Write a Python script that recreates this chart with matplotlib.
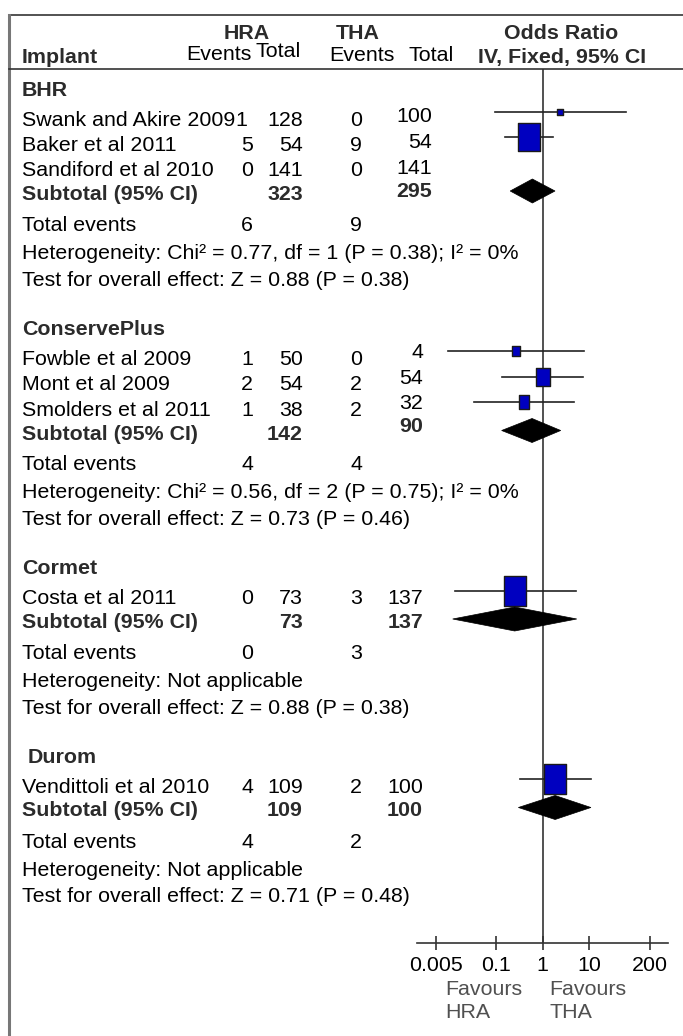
import matplotlib
matplotlib.use('Agg')
import matplotlib.pyplot as plt
from matplotlib.path import Path
from matplotlib.patches import Polygon
import numpy as np

plt.rcParams['font.family'] = ['Liberation Sans', 'DejaVu Sans']

# --- data ---
groups = ['BHR', 'ConservePlus', 'Cormet', 'Durom']
study_names = ['Swank and Akire 2009', 'Baker et al 2011', 'Sandiford et al 2010',
               'Fowble et al 2009', 'Mont et al 2009', 'Smolders et al 2011',
               'Costa et al 2011', 'Vendittoli et al 2010']
study_group = [0, 0, 0, 1, 1, 1, 2, 3]
hra_events = [1, 5, 0, 1, 2, 1, 0, 4]
hra_total = [128, 54, 141, 50, 54, 38, 73, 109]
tha_events = [0, 9, 0, 0, 2, 2, 3, 2]
tha_total = [100, 54, 141, 4, 54, 32, 137, 100]
odds = [2.36, 0.51, np.nan, 0.27, 1.0, 0.40, 0.26, 1.87]
ci_low = [0.094, 0.155, np.nan, 0.0093, 0.131, 0.033, 0.013, 0.325]
ci_high = [61.0, 1.64, np.nan, 7.85, 7.47, 4.78, 5.12, 10.8]
weight = [11.6, 88.4, np.nan, 17.7, 49.4, 32.9, 100.0, 100.0]

sub_hra_total = [323, 142, 73, 109]
sub_tha_total = [295, 90, 137, 100]
sub_odds = [0.60, 0.59, 0.25, 1.85]
sub_low = [0.20, 0.131, 0.0116, 0.30]
sub_high = [1.84, 2.44, 5.4, 10.9]
tot_hra_events = [6, 4, 0, 4]
tot_tha_events = [9, 4, 3, 2]
heterogeneity = ['Chi² = 0.77, df = 1 (P = 0.38); I² = 0%',
                 'Chi² = 0.56, df = 2 (P = 0.75); I² = 0%',
                 'Not applicable', 'Not applicable']
overall = ['Z = 0.88 (P = 0.38)', 'Z = 0.73 (P = 0.46)',
           'Z = 0.88 (P = 0.38)', 'Z = 0.71 (P = 0.48)']
tick_vals = [0.005, 0.1, 1, 10, 200]
tick_labels = ['0.005', '0.1', '1', '10', '200']

# --- layout (pixels) ---
W, H = 683, 1036
fs = 15.4
blue = '#0000c0'
boldc = '#2b2b2b'
col_name, col_he, col_ht, col_te = 22, 247, 303, 356
col_tt = [432, 423, 423, 423]
tt_dy = [-3, -7, 0, 0]
axis_y, top_y = 943, 69.3
zero_px, dec_px = 542.7, 46.5
ax_l, ax_r = 416.7, 668

fig = plt.figure(figsize=(W / 100, H / 100), dpi=100)
ax = fig.add_axes([0, 0, 1, 1])
ax.set_xlim(0, W)
ax.set_ylim(H, 0)
ax.axis('off')

fx = fig.add_axes([ax_l / W, (H - axis_y) / H, (ax_r - ax_l) / W, (axis_y - top_y) / H])
fx.set_xscale('log')
fx.set_xlim(10 ** ((ax_l - zero_px) / dec_px), 10 ** ((ax_r - zero_px) / dec_px))
fx.set_ylim(axis_y, top_y)
fx.patch.set_alpha(0)
for s in ['top', 'left', 'right']:
    fx.spines[s].set_visible(False)
fx.spines['bottom'].set_color('#333333')
fx.spines['bottom'].set_linewidth(1.2)
fx.set_yticks([])
fx.set_xticks(tick_vals)
fx.set_xticklabels(tick_labels, fontsize=fs, color='black')
fx.minorticks_off()
fx.tick_params(axis='x', direction='inout', length=9.4, width=1.2, color='#333333', pad=4.5)
fx.axvline(1, color='#333333', lw=1.2, zorder=1)


def txt(x, y, s, ha='left', bold=False, color=None):
    ax.text(x, y + 7.5, s, ha=ha, va='baseline', fontsize=fs,
            fontweight='bold' if bold else 'normal',
            color=color or (boldc if bold else 'black'))


# frame
ax.plot([9, W], [15, 15], color='#444444', lw=1.3)
ax.plot([9, 9], [15, H], color='#777777', lw=2.2)
ax.plot([9, W], [top_y, top_y], color='#333333', lw=1.2)

# header
txt(247, 31.5, 'HRA', ha='center', bold=True)
txt(358, 31.5, 'THA', ha='center', bold=True)
txt(561, 31.5, 'Odds Ratio', ha='center', bold=True)
txt(219, 52.5, 'Events', ha='center')
txt(278, 49.5, 'Total', ha='center')
txt(362, 53.5, 'Events', ha='center')
txt(431, 53.5, 'Total', ha='center')
txt(col_name, 55.5, 'Implant', bold=True)
txt(562, 55.5, 'IV, Fixed, 95% CI', ha='center', bold=True)

# box marker: width:height = 1:1.3
rect = Path([(-0.5 / 1.3, -0.5), (0.5 / 1.3, -0.5), (0.5 / 1.3, 0.5),
             (-0.5 / 1.3, 0.5), (-0.5 / 1.3, -0.5)],
            [Path.MOVETO, Path.LINETO, Path.LINETO, Path.LINETO, Path.CLOSEPOLY])

y = 88
for g, gname in enumerate(groups):
    txt(col_name + (6 if g == 3 else 0), y, gname, bold=True)
    y += 30
    idx = [i for i in range(len(study_names)) if study_group[i] == g]
    for k, i in enumerate(idx):
        if k > 0:
            y += 25.5
        txt(col_name, y, study_names[i])
        txt(col_he - (6 if i == 0 else 0), y, str(hra_events[i]), ha='center')
        txt(col_ht, y, str(hra_total[i]), ha='right')
        txt(col_te, y, str(tha_events[i]), ha='center')
        txt(col_tt[g], y + tt_dy[g], str(tha_total[i]), ha='right')
        if not np.isnan(odds[i]):
            my = y - 6.5
            fx.plot([ci_low[i], ci_high[i]], [my, my], color='#222222', lw=1.2, zorder=2)
            h_px = 1.3 * weight[i] ** 0.68
            fx.scatter([odds[i]], [my], marker=rect, s=(h_px * 0.72) ** 2,
                       facecolor=blue, edgecolor='#1a1a1a', linewidths=1, zorder=3)
    y += 23.5
    txt(col_name, y, 'Subtotal (95% CI)', bold=True)
    txt(col_ht, y, str(sub_hra_total[g]), ha='right', bold=True)
    txt(col_tt[g], y + tt_dy[g], str(sub_tha_total[g]), ha='right', bold=True)
    dy = y - 1.5
    fx.add_patch(Polygon([(sub_low[g], dy), (sub_odds[g], dy - 12),
                          (sub_high[g], dy), (sub_odds[g], dy + 12)],
                         closed=True, facecolor='black', edgecolor='black', lw=0.5, zorder=4))
    y += 31
    txt(col_name, y, 'Total events')
    txt(col_he, y, str(tot_hra_events[g]), ha='center')
    txt(col_te, y, str(tot_tha_events[g]), ha='center')
    y += 28
    txt(col_name, y, 'Heterogeneity: ' + heterogeneity[g])
    y += 26.5
    txt(col_name, y, 'Test for overall effect: ' + overall[g])
    y += 49.5

# favours labels
gray = '#505050'
ax.text(445, 995, 'Favours', fontsize=fs, color=gray, va='baseline')
ax.text(445, 1018, 'HRA', fontsize=fs, color=gray, va='baseline')
ax.text(549, 995, 'Favours', fontsize=fs, color=gray, va='baseline')
ax.text(549, 1018, 'THA', fontsize=fs, color=gray, va='baseline')

fig.savefig('out.png', dpi=100)
